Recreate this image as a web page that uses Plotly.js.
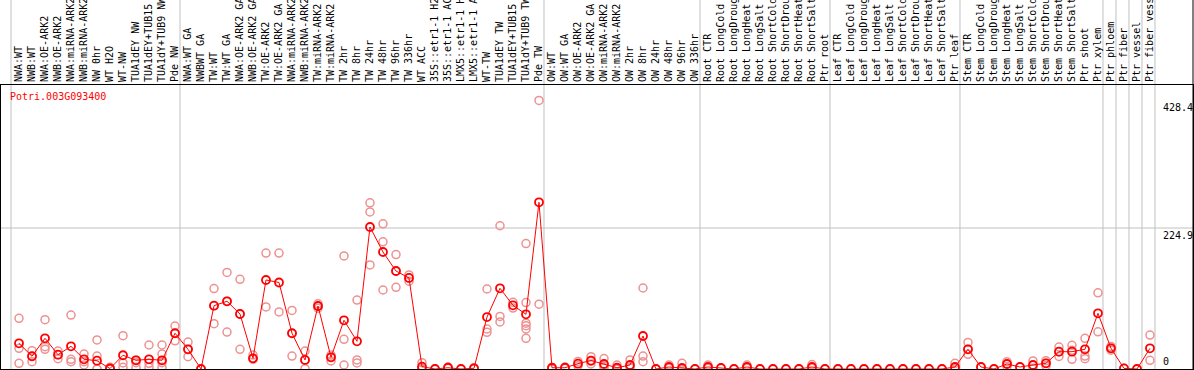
<!DOCTYPE html>
<html><head><meta charset="utf-8">
<script src="https://cdn.plot.ly/plotly-3.0.1.min.js"></script>
<style>html,body{margin:0;padding:0;background:#fff}#chart{width:1194px;height:370px}</style>
</head><body><div id="chart"></div>
<script>
const categories = [
"NWA:WT","NWB:WT","NWA:OE-ARK2","NWB:OE-ARK2","NWA:miRNA-ARK2","NWB:miRNA-ARK2","NW 0hr","WT H2O","WT-NW","TUA1dEY NW","TUA1dEY+TUB15","TUA1dY+TUB9 NW","Pde NW",
"NWA:WT GA","NWBWT GA","TW:WT","TW:WT GA","NWA:OE-ARK2 GA","NWB:OE-ARK2 GA","TW:OE-ARK2","TW:OE-ARK2 GA","NWA:miRNA-ARK2","NWB:miRNA-ARK2","TW:miRNA-ARK2","TW:miRNA-ARK2","TW 2hr","TW 8hr","TW 24hr","TW 48hr","TW 96hr","TW 336hr","WT ACC","35S::etr1-1 H2O","35S::etr1-1 ACC","LMX5::etr1-1 H2O","LMX5::etr1-1 ACC","WT-TW","TUA1dEY TW","TUA1dEY+TUB15","TUA1dY+TUB9 TW","Pde TW",
"OW:WT","OW:WT GA","OW:OE-ARK2","OW:OE-ARK2 GA","OW:miRNA-ARK2","OW:miRNA-ARK2","OW 2hr","OW 8hr","OW 24hr","OW 48hr","OW 96hr","OW 336hr",
"Root CTR","Root LongCold","Root LongDrought","Root LongHeat","Root LongSalt","Root ShortCold","Root ShortDrought","Root ShortHeat","Root ShortSalt","Ptr root",
"Leaf CTR","Leaf LongCold","Leaf LongDrought","Leaf LongHeat","Leaf LongSalt","Leaf ShortCold","Leaf ShortDrought","Leaf ShortHeat","Leaf ShortSalt","Ptr leaf",
"Stem CTR","Stem LongCold","Stem LongDrought","Stem LongHeat","Stem LongSalt","Stem ShortCold","Stem ShortDrought","Stem ShortHeat","Stem ShortSalt","Ptr shoot","Ptr xylem",
"Ptr phloem","Ptr fiber","Ptr vessel","Ptr fiber vessel"];

const meanValues = [
41,20.3,49,22.8,36.2,15.5,13.2,0.8,21.9,13.9,15.5,13.9,57,
31.4,0,101,108,87.7,17,142,138,57,14.4,100.5,18.7,77.7,44.2,226.5,186.6,156.3,145.2,3.7,0,2,0,1.1,82.9,128.7,101.6,87.2,265.9,
2,2,8.5,13.5,8,2,6.4,52.6,0,3.2,1.6,0,
3.2,1.6,0,3.2,0,0,0,0,3.2,0,
0,0,0,0,0,0,0,0,0,3.2,
31.4,3.2,0,8,3.2,6.4,9.1,27.6,27.6,31.4,88.8,
33,1,0,33];

const replicates = [
[80.9,33,9.1],[29.2,20.3,11.6],[78.6,35.6,31.4],[28.7,22.8,16.4],[86.1,15.5,11.6],[23.9,11.6,6.4],[46.3,20.7,0,0],[2.7,0,0],[53.1,9.6,2.7],[14,10,2.7],[38.3,9.1,2.7],[38.3,23.9,10,2.7],[68.6,57,45],
[43,31.4,19.6],[0,0],[128.3,101,72.3],[154,108,58.9],[143,87.7,31.4],[22.3,17,15.5],[185,99],[185,91],[93.4,57,20.7],[28.7,14.4,0.5],[104,100,97],[22.3,18.7,12.8],[180.3,47.3,6.4],[110,14.4,9.6],[265,250.6,166],[231.6,202.9,126],[182.6,130.2,156],[150,145,140],[10,1,0],[0,0],[3,1,2],[0],[2,0],[127.6,63.8,58.5],[228.5,83.8,75],[106.3,97.2],[200,106,73,69,63.8,49],[428.4,103.4],
[2,0],[3,1],[12,5],[19.6,12,8],[16.6,5,2],[6.4,0,0],[14.4,3,2],[129.2,20.7,11.6],[0],[6.4,2,1],[9.1,0,0],[0],
[6.4,2,1],[1.6],[0],[6.4,2,1],[0],[0],[0],[0],[7,2,1],[0],
[0],[0],[0],[0],[0],[0],[0],[0],[0],[9,1,0],
[42.3,31.4,23.4],[3.2],[0],[11.6,8,4],[3.2],[12.8,6,1],[13.2,9,5],[35,27.6,20],[37.9,30,15.5],[49,20.7,16.4],[121.6,59.3],
[36,33,30],[1],[0],[54.2,13.9]];

const groupBreaks = [-0.615,12.385,40.385,52.385,62.385,72.385,83.385,84.385,85.385,86.385,87.385];
const yTickValues = [428.4,224.9,0];
const yTickLabels = ["428.4","224.9","0"];
const geneId = "Potri.003G093400";

const idx = categories.map((_, i) => i);
const repX = [], repY = [];
replicates.forEach((r, i) => r.forEach(v => { repX.push(i); repY.push(v); }));

const mono = "DejaVu Sans Mono, monospace";
const traces = [
  {x: repX, y: repY, type: 'scatter', mode: 'markers', hoverinfo: 'skip',
   marker: {symbol: 'circle-open', size: 8, color: 'rgb(238,145,145)', line: {width: 1.5}}},
  {x: idx, y: meanValues, type: 'scatter', mode: 'lines+markers',
   line: {color: '#ff0000', width: 1},
   marker: {symbol: 'circle-open', size: 8, color: '#ff0000', line: {width: 1.8}}}
];

const shapes = groupBreaks.map(b => ({type: 'line', xref: 'x', yref: 'paper', x0: b, x1: b, y0: 0, y1: 1.32,
  line: {color: '#c0c0c0', width: 1}, layer: 'below'}));
shapes.push({type: 'line', xref: 'paper', yref: 'y', x0: 0, x1: 1, y0: yTickValues[1], y1: yTickValues[1],
  line: {color: '#c0c0c0', width: 1}, layer: 'below'});
shapes.push({type: 'line', xref: 'paper', yref: 'paper', x0: 1, x1: 1, y0: 0, y1: 1.32,
  line: {color: '#000', width: 1}});

const annotations = yTickValues.map((v, k) => ({xref: 'paper', yref: 'y', x: 0.9745, y: v, xshift: -2,
  xanchor: 'left', yanchor: v === 0 ? 'bottom' : 'top', text: yTickLabels[k], showarrow: false,
  font: {family: mono, size: 10, color: '#000'}}));
annotations.push({xref: 'paper', yref: 'paper', x: 0.006, y: 0.985, xanchor: 'left', yanchor: 'top',
  text: geneId, showarrow: false, font: {family: mono, size: 10, color: '#ff0000'}});

const layout = {
  width: 1194, height: 370, showlegend: false,
  margin: {l: 1, r: 1, t: 85, b: 1, pad: 0},
  paper_bgcolor: '#fff', plot_bgcolor: '#fff',
  xaxis: {range: [-1.385, 90.31], side: 'top', tickmode: 'array', tickvals: idx, ticktext: categories,
    tickangle: -90, tickfont: {family: mono, size: 10, color: '#000'}, ticks: '',
    showgrid: false, zeroline: false, showline: true, linecolor: '#000', linewidth: 1, mirror: true},
  yaxis: {range: [0, 453], showticklabels: false, showgrid: false, zeroline: false,
    showline: true, linecolor: '#000', linewidth: 1, mirror: true},
  shapes: shapes, annotations: annotations
};
Plotly.newPlot('chart', traces, layout, {displayModeBar: false, staticPlot: true});
</script></body></html>
